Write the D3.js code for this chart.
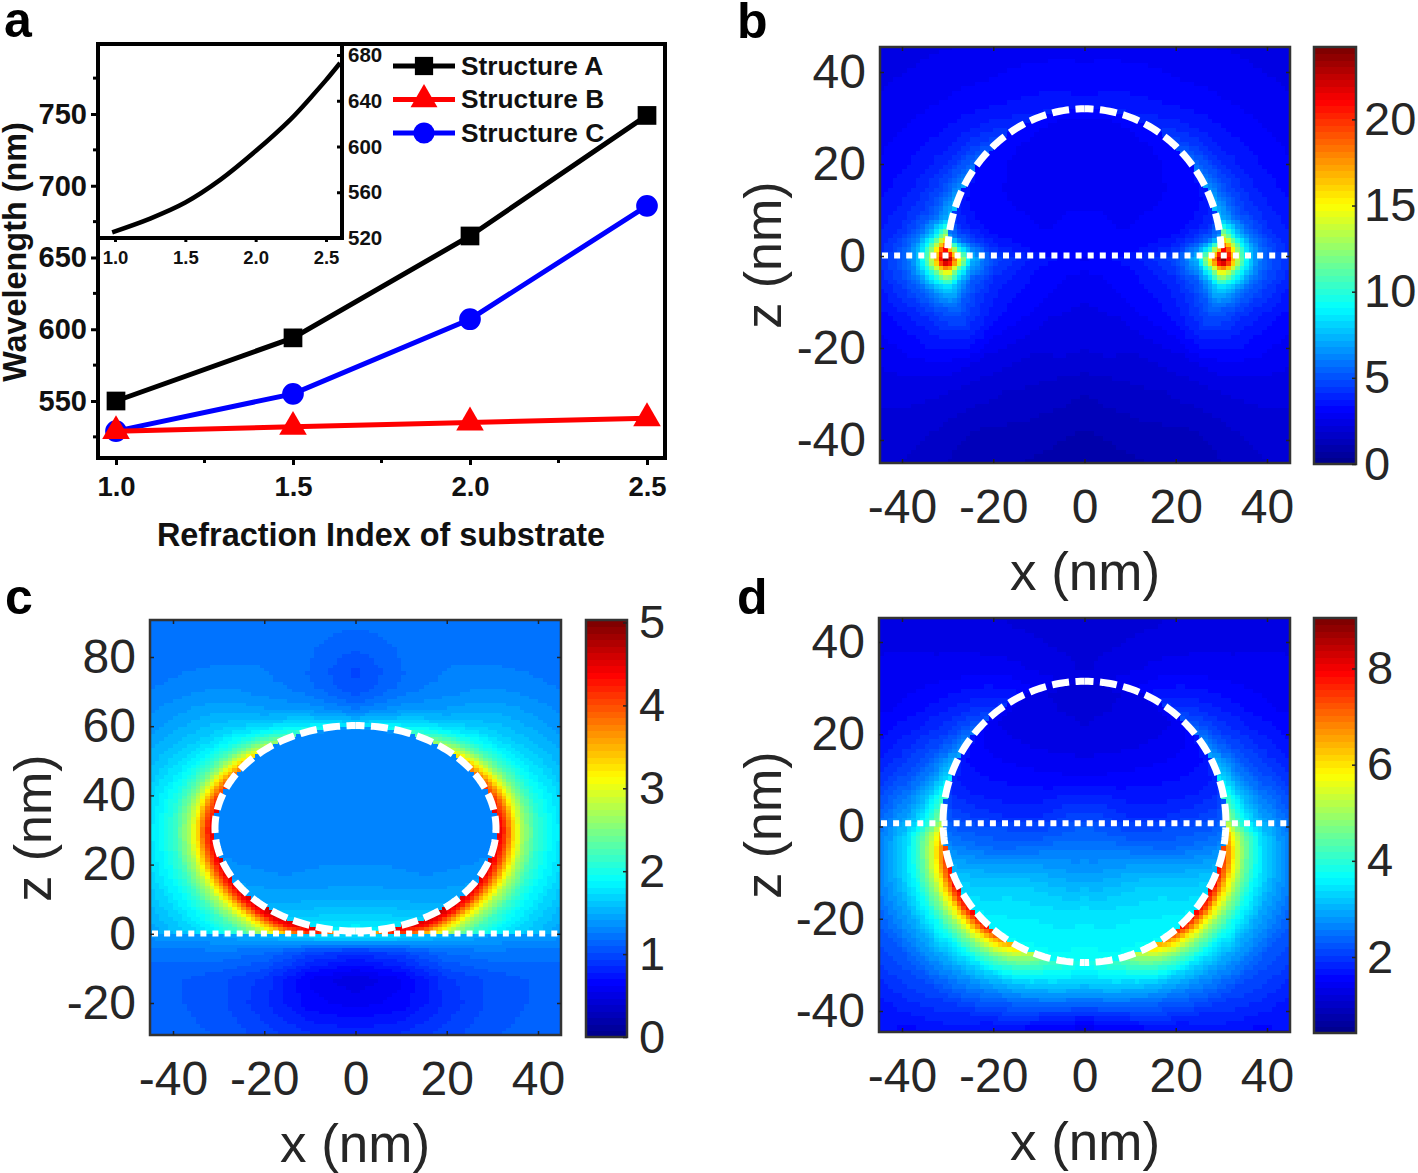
<!DOCTYPE html>
<html><head><meta charset="utf-8">
<script src="https://cdn.jsdelivr.net/npm/d3@7"></script>
<style>html,body{margin:0;background:#fff}svg{display:block}text{font-family:"Liberation Sans",Arial,sans-serif}</style>
</head><body><svg id="c" width="1418" height="1173"></svg>
<script>
// ---------- panel a ----------
const refractionIndex=[1.0,1.5,2.0,2.5];
const structureA=[550,594,665,749];
const structureB=[529,532,535,538];
const structureC=[529,555,607,686];
const legendNames=["Structure A","Structure B","Structure C"];
const insetIndex=[0.98,1.25,1.5,1.75,2.0,2.25,2.4,2.5,2.6];
const insetWavelength=[525,537,551,571,596,624,644,658,673];
const wlTicks=[550,600,650,700,750];
const wlMinor=[525,575,625,675,725,775];
const insetYTicks=[520,560,600,640,680];

// ---------- field tables, rows = angle from +z (deg), cols = nm from particle surface ----------
const bAngles=[0,30,50,65,75,82,87,90,92,96,102,110,120,135,150,180];
const bDist=[-32,-20,-10,-5,-2,-0.01,0,1,2,3,4,6,8,11,15,20,30,50];
const bField=[
[3.2,3.0,3.0,3.0,3.0,3.1,3.6,3.5,3.4,3.4,3.3,3.2,3.1,3.0,2.9,2.7,2.4,2.2],
[3.2,3.0,3.0,3.0,3.05,3.2,4.2,4.0,3.9,3.8,3.7,3.4,3.3,3.1,2.9,2.7,2.4,2.2],
[3.2,3.0,3.0,3.05,3.1,3.4,6.2,5.6,5.2,4.8,4.5,4.0,3.7,3.4,3.1,2.9,2.5,2.3],
[3.2,3.05,3.1,3.2,3.4,3.9,7.4,6.6,6.0,5.4,5.0,4.4,4.0,3.6,3.3,3.0,2.6,2.4],
[3.2,3.1,3.3,3.6,4.0,4.6,8.6,7.6,6.8,6.1,5.5,4.8,4.3,3.9,3.5,3.2,2.8,2.5],
[3.2,3.3,3.8,4.7,5.6,6.8,15,13,11,9.2,7.6,5.9,5.0,4.2,3.7,3.4,3.0,2.6],
[3.2,3.4,4.4,6.6,11,18,22,20,17,13.5,11,7.8,6.0,4.7,4.0,3.6,3.1,2.7],
[3.2,3.5,4.7,7.5,16,24,24,23,19,15,12,8.2,6.3,5.0,4.2,3.7,3.2,2.7],
[3.2,3.5,4.8,7.8,17,24,24,23,19,15,12,8.2,6.3,5.0,4.2,3.7,3.1,2.7],
[3.2,3.5,4.6,6.8,11,16,16,15,13,11,9.4,7.2,5.7,4.7,4.0,3.5,3.0,2.6],
[3.2,3.4,4.2,5.3,7.0,8.8,8.8,8.6,8.0,7.3,6.6,5.6,4.9,4.2,3.6,3.2,2.8,2.5],
[3.1,3.3,3.8,4.5,5.2,5.8,5.8,5.6,5.4,5.2,4.9,4.4,4.0,3.6,3.2,2.9,2.6,2.4],
[3.0,3.2,3.5,3.9,4.2,4.4,4.4,4.3,4.2,4.1,4.0,3.7,3.5,3.2,2.9,2.6,2.3,2.2],
[3.0,3.1,3.0,2.8,2.7,2.6,2.6,2.55,2.55,2.5,2.45,2.4,2.35,2.25,2.15,2.1,2.0,2.0],
[3.2,2.8,2.4,2.2,2.05,2.0,2.0,1.95,1.9,1.85,1.8,1.75,1.65,1.5,1.35,1.3,1.4,1.6],
[3.2,2.5,2.2,1.7,1.5,1.4,1.4,1.35,1.3,1.25,1.2,1.1,1.0,0.9,0.85,0.85,0.85,0.85]];

const cAngles=[0,15,30,45,60,75,90,105,120,135,150,165,180];
const cDist=[-30.5,-20,-10,-3,-0.01,0,2,4,6,9,12,16,22,30,45,70];
const cField=[
[1.3,1.28,1.28,1.3,1.35,1.75,1.5,1.3,1.2,1.08,1.02,1.0,1.1,1.2,1.2,1.2],
[1.3,1.28,1.28,1.3,1.35,2.0,1.7,1.5,1.38,1.28,1.22,1.2,1.22,1.22,1.2,1.2],
[1.3,1.28,1.28,1.3,1.32,2.5,2.05,1.8,1.6,1.45,1.38,1.32,1.28,1.22,1.2,1.2],
[1.3,1.28,1.28,1.3,1.32,3.3,2.7,2.2,1.95,1.72,1.6,1.5,1.36,1.25,1.2,1.2],
[1.3,1.28,1.28,1.3,1.32,4.0,3.3,2.65,2.2,1.9,1.72,1.58,1.42,1.28,1.2,1.2],
[1.3,1.28,1.28,1.3,1.32,4.4,3.8,3.05,2.5,2.05,1.85,1.66,1.46,1.32,1.2,1.2],
[1.3,1.28,1.28,1.3,1.32,4.6,4.1,3.25,2.65,2.15,1.9,1.7,1.48,1.32,1.2,1.2],
[1.3,1.28,1.28,1.3,1.35,4.6,4.1,3.3,2.7,2.15,1.9,1.7,1.48,1.32,1.2,1.2],
[1.3,1.28,1.3,1.38,1.42,4.6,4.1,3.35,2.75,2.2,1.9,1.7,1.48,1.32,1.2,1.2],
[1.3,1.3,1.35,1.45,1.5,4.7,4.2,3.35,2.75,2.2,1.9,1.7,1.48,1.32,1.2,1.2],
[1.3,1.32,1.4,1.55,1.65,4.7,4.3,3.5,2.8,2.2,1.9,1.6,1.45,1.3,1.2,1.2],
[1.3,1.32,1.45,1.7,1.85,4.7,4.0,3.2,2.6,2.2,1.9,1.6,1.45,1.3,1.2,1.2],
[1.3,1.33,1.45,1.75,1.9,2.4,2.2,2.0,1.8,1.7,1.6,1.5,1.4,1.3,1.2,1.2]];
const cLowerX=[0,10,20,30,45];
const cLowerZ=[-1,-5,-13,-20,-30];
const cLowerField=[
[1.7,1.65,1.5,1.4,1.35],
[0.9,1.0,1.2,1.25,1.2],
[0.48,0.62,0.92,1.05,1.15],
[0.6,0.66,0.88,1.05,1.15],
[0.85,0.9,1.0,1.1,1.15]];

const dAngles=[0,20,40,60,75,85,90,95,105,115,125,135,145,155,165,180];
const dDist=[-31,-20,-12,-6,-2,-0.01,0,1.5,3,5,8,12,18,28,45];
const dField=[
[2.2,1.45,1.25,1.2,1.15,1.2,1.25,1.25,1.2,1.2,1.15,1.15,1.1,1.1,1.1],
[2.2,1.5,1.3,1.25,1.25,1.3,1.5,1.45,1.4,1.35,1.3,1.25,1.2,1.2,1.2],
[2.2,1.6,1.4,1.35,1.35,1.5,2.1,1.95,1.85,1.75,1.6,1.45,1.35,1.3,1.3],
[2.2,1.7,1.6,1.55,1.6,1.8,2.9,2.6,2.35,2.1,1.9,1.7,1.5,1.4,1.4],
[2.2,1.8,1.75,1.75,1.8,2.0,3.7,3.4,3.0,2.6,2.3,2.0,1.7,1.5,1.5],
[2.2,1.9,1.9,2.0,2.1,2.4,4.6,4.2,3.7,3.2,2.7,2.4,1.9,1.7,1.6],
[2.2,2.0,2.05,2.15,2.25,2.5,5.0,4.6,4.0,3.5,3.0,2.6,2.2,1.8,1.7],
[2.2,2.1,2.2,2.3,2.4,2.7,6.8,5.8,5.0,4.3,3.4,2.8,2.3,1.9,1.7],
[2.2,2.2,2.35,2.6,2.8,3.0,7.8,6.8,5.7,4.7,3.7,3.0,2.4,1.9,1.7],
[2.2,2.4,2.7,3.0,3.2,3.3,8.3,7.2,6.0,4.9,3.8,3.0,2.4,1.9,1.7],
[2.2,2.55,3.0,3.25,3.4,3.5,8.3,7.3,6.0,4.9,3.8,3.0,2.3,1.8,1.6],
[2.2,2.7,3.2,3.45,3.55,3.6,8.2,7.0,5.8,4.7,3.6,2.9,2.2,1.7,1.5],
[2.2,2.75,3.3,3.5,3.6,3.7,7.2,6.2,5.3,4.4,3.4,2.7,2.0,1.5,1.4],
[2.2,2.8,3.35,3.55,3.65,3.7,5.6,5.0,4.5,3.9,3.1,2.4,1.7,1.4,1.3],
[2.2,2.8,3.35,3.55,3.65,3.75,4.3,4.1,3.8,3.4,2.8,2.1,1.3,1.1,1.1],
[2.2,2.85,3.4,3.6,3.7,3.75,3.8,3.6,3.4,3.1,2.5,1.7,0.9,0.8,0.8]];

const xTicks=[-40,-20,0,20,40];
const bzTicks=[-40,-20,0,20,40];
const czTicks=[-20,0,20,40,60,80];
const dzTicks=[-40,-20,0,20,40];
const bBarTicks=[0,5,10,15,20];
const cBarTicks=[0,1,2,3,4,5];
const dBarTicks=[2,4,6,8];

const svg=d3.select("#c");
const ink="#262626";

// jet colour map, 64 levels as in the reference colour bars
const jet=d3.scaleLinear().domain([0,.125,.375,.625,.875,1])
  .range(["#00008f","#0000ff","#00ffff","#ffff00","#ff0000","#800000"]);
const jetLevels=d3.range(64).map(i=>jet(i/63));

function lookup(rows,cols,table,r,c){
  const i=Math.max(0,Math.min(rows.length-2,d3.bisectRight(rows,r)-1));
  const j=Math.max(0,Math.min(cols.length-2,d3.bisectRight(cols,c)-1));
  const u=Math.max(0,Math.min(1,(r-rows[i])/(rows[i+1]-rows[i])));
  const v=Math.max(0,Math.min(1,(c-cols[j])/(cols[j+1]-cols[j])));
  return (table[i][j]*(1-v)+table[i][j+1]*v)*(1-u)+(table[i+1][j]*(1-v)+table[i+1][j+1]*v)*u;
}
function polarField(cz,a,bb,angles,dist,table){
  return (x,z)=>{
    const dx=Math.abs(x),dz=z-cz,r=Math.hypot(dx,dz),t=Math.atan2(dx,dz);
    const R=1/Math.hypot(Math.sin(t)/a,Math.cos(t)/bb);
    return lookup(angles,dist,table,t*180/Math.PI,r-R);
  };
}

function heatPanel(o){
  const g=svg.append("g");
  const x=d3.scaleLinear().domain(o.xDom).range(o.xPix);
  const z=d3.scaleLinear().domain(o.zDom).range(o.zPix);
  const id="clip"+o.name;
  g.append("clipPath").attr("id",id).append("rect")
    .attr("x",o.L).attr("y",o.T).attr("width",o.R-o.L).attr("height",o.B-o.T);
  const color=d3.scaleQuantize().domain(o.barDom).range(jetLevels);
  const cells=[];
  const x0=Math.floor(x.invert(o.L)),x1=Math.ceil(x.invert(o.R));
  const z0=Math.floor(z.invert(o.B)),z1=Math.ceil(z.invert(o.T));
  for(let i=x0;i<x1;i++)for(let k=z0;k<z1;k++)cells.push({x:i,z:k,v:o.field(i+.5,k+.5)});
  g.append("g").attr("clip-path",`url(#${id})`).attr("shape-rendering","crispEdges")
    .selectAll("rect").data(cells).join("rect")
    .attr("x",d=>x(d.x)).attr("y",d=>z(d.z+1))
    .attr("width",x(1)-x(0)+.6).attr("height",z(0)-z(1)+.6)
    .attr("fill",d=>color(d.v));
  // substrate line and particle outline
  const over=g.append("g").attr("clip-path",`url(#${id})`).attr("fill","none").attr("stroke","#fff");
  over.append("line").attr("x1",o.L+2).attr("x2",o.R-1).attr("y1",z(o.lineZ)).attr("y2",z(o.lineZ))
    .attr("stroke-width",6).attr("stroke-dasharray","6 6.1");
  const ring=d3.line().x(t=>x(o.ringSign*o.ringA*Math.sin(t*Math.PI/180)))
    .y(t=>z(o.ringCz+o.ringB*Math.cos(t*Math.PI/180)));
  [-1,1].forEach(s=>{
    o.ringSign=s;
    over.append("path").attr("d",ring(d3.range(0,o.ringEnd+.1,1.5)))
      .attr("stroke-width",7).attr("stroke-dasharray",o.dash).attr("stroke-dashoffset",8);
  });
  // frame and axes
  g.append("rect").attr("x",o.L).attr("y",o.T).attr("width",o.R-o.L).attr("height",o.B-o.T)
    .attr("fill","none").attr("stroke","#333").attr("stroke-width",2.5);
  const styleAxis=(a,size)=>{a.select(".domain").remove();
    a.selectAll("line").attr("stroke","#222").attr("stroke-width",1.5);
    a.selectAll("text").attr("font-size",size).attr("fill",ink).attr("font-family",'"Liberation Sans"');};
  styleAxis(g.append("g").attr("transform",`translate(0,${o.B})`)
    .call(d3.axisBottom(x).tickValues(xTicks).tickFormat(String).tickSizeInner(-4).tickSizeOuter(0).tickPadding(o.xPad)),48);
  styleAxis(g.append("g").attr("transform",`translate(${o.L},0)`)
    .call(d3.axisLeft(z).tickValues(o.zTicks).tickFormat(String).tickSizeInner(-4).tickSizeOuter(0).tickPadding(14)),48);
  styleAxis(g.append("g").attr("transform",`translate(0,${o.T})`)
    .call(d3.axisTop(x).tickValues(xTicks).tickFormat("").tickSizeInner(-4).tickSizeOuter(0)),48);
  styleAxis(g.append("g").attr("transform",`translate(${o.R},0)`)
    .call(d3.axisRight(z).tickValues(o.zTicks).tickFormat("").tickSizeInner(-4).tickSizeOuter(0)),48);
  g.append("text").attr("x",o.xLabel[0]).attr("y",o.xLabel[1]).attr("text-anchor","middle")
    .attr("font-size",53).attr("fill",ink).text("x (nm)");
  g.append("text").attr("transform",`translate(${o.zLabel[0]},${o.zLabel[1]}) rotate(-90)`)
    .attr("text-anchor","middle").attr("font-size",52).attr("fill",ink).text("z (nm)");
  // colour bar
  const bar=d3.scaleBand().domain(d3.range(64)).range([o.barB,o.barT]).paddingInner(0);
  const barG=g.append("g").attr("shape-rendering","crispEdges");
  barG.selectAll("rect").data(jetLevels).join("rect")
    .attr("x",o.barL).attr("width",o.barR-o.barL).attr("y",(d,i)=>bar(i)).attr("height",bar.bandwidth()+.7).attr("fill",d=>d);
  g.append("rect").attr("x",o.barL).attr("y",o.barT).attr("width",o.barR-o.barL).attr("height",o.barB-o.barT)
    .attr("fill","none").attr("stroke","#333").attr("stroke-width",2.5);
  const bs=d3.scaleLinear().domain(o.barDom).range([o.barB,o.barT]);
  styleAxis(g.append("g").attr("transform",`translate(${o.barR},0)`)
    .call(d3.axisRight(bs).tickValues(o.barTicks).tickFormat(String).tickSizeInner(-4).tickSizeOuter(0).tickPadding(o.barPad)),47);
  g.append("text").attr("x",o.letter[0]).attr("y",o.letter[1]).attr("font-size",50).attr("font-weight",700)
    .attr("fill","#000").text(o.name);
}

heatPanel({name:"b",L:880,R:1290,T:47,B:463,xDom:[-40,40],xPix:[902,1267],zDom:[-40,40],zPix:[440,72],
  field:polarField(0,30,32,bAngles,bDist,bField),lineZ:0.1,ringCz:0,ringA:30,ringB:32,ringEnd:88,dash:"17 6.5",
  zTicks:bzTicks,xPad:26,xLabel:[1085,590],zLabel:[781,255],
  barL:1314,barR:1356,barT:47,barB:464,barDom:[0,24.2],barTicks:bBarTicks,barPad:8,letter:[737,38]});
heatPanel({name:"c",L:150,R:561,T:620,B:1035,xDom:[-40,40],xPix:[173,538],zDom:[-20,80],zPix:[1003,657],
  field:(()=>{const up=polarField(30.5,30.8,29.7,cAngles,cDist,cField);
    return (x,z)=>z>=0?up(x,z):lookup(cLowerZ.slice().reverse(),cLowerX,cLowerField.slice().reverse(),z,Math.abs(x));})(),
  lineZ:0.1,ringCz:30.5,ringA:30.8,ringB:29.7,ringEnd:180,dash:"17 6.5",
  zTicks:czTicks,xPad:26,xLabel:[355,1162],zLabel:[51,828],
  barL:586,barR:627,barT:620,barB:1037,barDom:[0,5.03],barTicks:cBarTicks,barPad:12,letter:[5,614]});
heatPanel({name:"d",L:879,R:1290,T:618,B:1032,xDom:[-40,40],xPix:[902,1267],zDom:[-40,40],zPix:[1011,642],
  field:polarField(1,31,30.5,dAngles,dDist,dField),lineZ:0.7,ringCz:1,ringA:31,ringB:30.5,ringEnd:180,dash:"17 6.5",
  zTicks:dzTicks,xPad:26,xLabel:[1085,1160],zLabel:[781,825],
  barL:1314,barR:1356,barT:618,barB:1033,barDom:[0.42,9.05],barTicks:dBarTicks,barPad:11,letter:[737,614]});

// ---------- panel a drawing ----------
const A={L:98,R:665,T:44,B:458};
const ax=d3.scaleLinear().domain([1,2.5]).range([116,647]);
const ay=d3.scaleLinear().domain([550,750]).range([401,114]);
const ga=svg.append("g");
const bold=(s,size)=>s.attr("font-size",size).attr("font-weight",700).attr("fill","#111");
const lineA=d3.line().x((d,i)=>ax(refractionIndex[i])).y(d=>ay(d));
const sym=(t,size)=>d3.symbol().type(t).size(size)();
const series=[
 {v:structureA,c:"#000",shape:d3.symbolSquare,size:350},
 {v:structureC,c:"#0000ff",shape:d3.symbolCircle,size:370},
 {v:structureB,c:"#ff0000",shape:d3.symbolTriangle,size:330}];
series.forEach(s=>{
  ga.append("path").attr("d",lineA(s.v)).attr("fill","none").attr("stroke",s.c).attr("stroke-width",5);
  ga.selectAll(null).data(s.v).join("path").attr("d",sym(s.shape,s.size))
    .attr("transform",(d,i)=>`translate(${ax(refractionIndex[i])},${ay(d)})`).attr("fill",s.c);
});
ga.append("rect").attr("x",A.L).attr("y",A.T).attr("width",A.R-A.L).attr("height",A.B-A.T)
  .attr("fill","none").attr("stroke","#000").attr("stroke-width",4);
const xa=ga.append("g").attr("transform",`translate(0,${A.B})`)
  .call(d3.axisBottom(ax).tickValues(refractionIndex).tickFormat(d3.format(".1f")).tickSizeOuter(0).tickSizeInner(7).tickPadding(11));
const ya=ga.append("g").attr("transform",`translate(${A.L},0)`)
  .call(d3.axisLeft(ay).tickValues(wlTicks).tickSizeOuter(0).tickSizeInner(7).tickPadding(4));
[xa,ya].forEach(s=>{s.select(".domain").remove();s.selectAll("line").attr("stroke","#000").attr("stroke-width",3);
  s.selectAll("text").attr("font-family",'"Liberation Sans"');});
bold(xa.selectAll("text"),27.5);
bold(ya.selectAll("text"),29);
ga.selectAll(null).data(wlMinor).join("line").attr("x1",A.L-5).attr("x2",A.L).attr("y1",d=>ay(d)).attr("y2",d=>ay(d))
  .attr("stroke","#000").attr("stroke-width",3);
ga.selectAll(null).data([1.25,1.75,2.25]).join("line").attr("y1",A.B).attr("y2",A.B+5).attr("x1",d=>ax(d)).attr("x2",d=>ax(d))
  .attr("stroke","#000").attr("stroke-width",3);
bold(ga.append("text"),32.4).attr("x",381).attr("y",546).attr("text-anchor","middle").text("Refraction Index of substrate");
bold(ga.append("text"),32.4).attr("transform","translate(26,252) rotate(-90)").attr("text-anchor","middle").text("Wavelength (nm)");
bold(ga.append("text"),50).attr("x",4).attr("y",37).attr("fill","#000").text("a");

// inset
const ix=d3.scaleLinear().domain([1,2.5]).range([115,326]);
const iy=d3.scaleLinear().domain([520,680]).range([238,55]);
const gi=svg.append("g");
gi.append("path").attr("d",d3.line().curve(d3.curveCatmullRom).x((d,i)=>ix(insetIndex[i])).y(d=>iy(d))(insetWavelength))
  .attr("fill","none").attr("stroke","#000").attr("stroke-width",4.5);
gi.append("line").attr("x1",98).attr("x2",344).attr("y1",iy(520)).attr("y2",iy(520)).attr("stroke","#000").attr("stroke-width",4);
gi.append("line").attr("x1",342).attr("x2",342).attr("y1",44).attr("y2",240).attr("stroke","#000").attr("stroke-width",4);
const ixa=gi.append("g").attr("transform",`translate(0,${iy(520)})`)
  .call(d3.axisBottom(ix).tickValues(refractionIndex).tickFormat(d3.format(".1f")).tickSizeOuter(0).tickSizeInner(4).tickPadding(9));
const iya=gi.append("g").attr("transform","translate(342,0)")
  .call(d3.axisRight(iy).tickValues(insetYTicks).tickSizeOuter(0).tickSizeInner(-5).tickPadding(6));
[ixa,iya].forEach(s=>{s.select(".domain").remove();s.selectAll("line").attr("stroke","#000").attr("stroke-width",3);
  s.selectAll("text").attr("font-family",'"Liberation Sans"');});
bold(ixa.selectAll("text"),18.5);
bold(iya.selectAll("text"),20.5);

// legend
const legY=d3.scalePoint().domain(legendNames).range([66,133]);
const legOrder=[series[0],series[2],series[1]];
legendNames.forEach((n,i)=>{
  const s=legOrder[i],y=legY(n);
  ga.append("line").attr("x1",393).attr("x2",455).attr("y1",y).attr("y2",y).attr("stroke",s.c).attr("stroke-width",5);
  ga.append("path").attr("d",sym(s.shape,s.size*.95)).attr("transform",`translate(424,${y})`).attr("fill",s.c);
  bold(ga.append("text"),26.3).attr("x",461).attr("y",y+8.5).text(n);
});
</script></body></html>
